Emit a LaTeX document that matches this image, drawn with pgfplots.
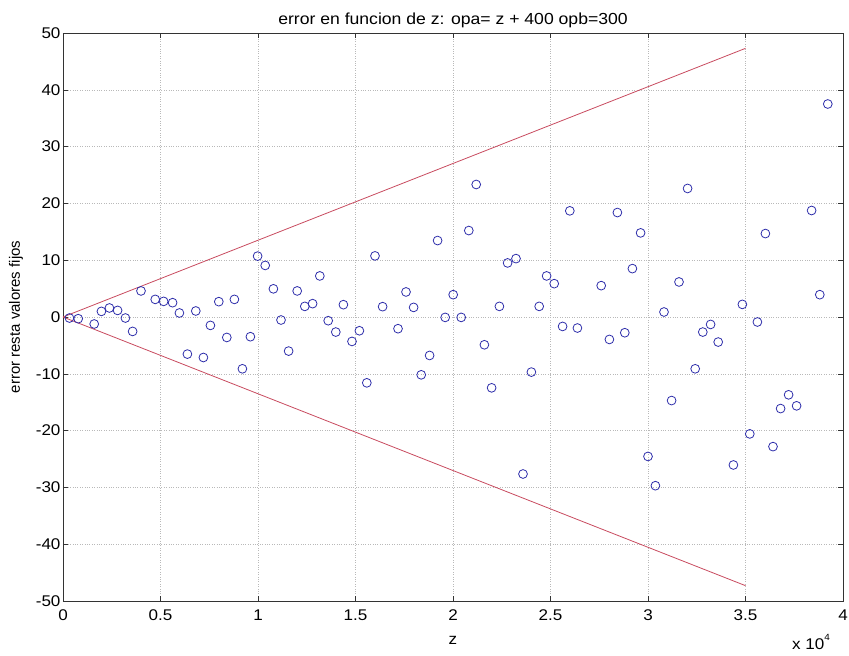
\documentclass[border=0pt]{standalone}
\usepackage{pgfplots}
\pgfplotsset{compat=1.18}
\usepackage{fontspec}
\setmainfont{Liberation Sans}
\newfontfamily\hfont[FakeStretch=1.1]{Liberation Sans}
\definecolor{mkblue}{RGB}{45,45,170}
\definecolor{lnred}{RGB}{200,75,95}
\begin{document}
\begin{tikzpicture}
\path[use as bounding box] (-63pt,-55pt) rectangle (786pt,601pt);
\begin{axis}[
  at={(0pt,0pt)}, anchor=south west,
  scale only axis, width=780pt, height=568pt,
  xmin=0, xmax=4, ymin=-50, ymax=50,
  xtick={0,0.5,...,4}, ytick={-50,-40,...,50},
  xticklabels={0,0.5,1,1.5,2,2.5,3,3.5,4},
  tick align=inside, major tick length=5pt,
  xtick pos=both, ytick pos=both,
  grid=major,
  major grid style={dotted, gray!55, line width=0.6pt},
  axis line style={black!80, line width=0.7pt},
  tick style={black!80, line width=0.6pt},
  /pgf/number format/assume math mode=true,
  ticklabel style={font=\hfont\fontsize{15.5}{17}\selectfont},
  xticklabel style={yshift=-5pt},
  yticklabel style={xshift=1pt},
  title={error en funcion de z: opa= z + 400 opb=300},
  title style={font=\hfont\fontsize{16}{18}\selectfont, yshift=-4pt},
  xlabel={z}, ylabel={error resta valores fijos},
  xlabel style={font=\hfont\fontsize{15.5}{17}\selectfont, yshift=-9pt},
  ylabel style={font=\fontsize{15}{17}\selectfont, yshift=6pt},
]
\addplot[lnred, line width=0.8pt] coordinates {(0,0) (3.5,47.3)};
\addplot[lnred, line width=0.8pt] coordinates {(0,0) (3.5,-47.3)};
\addplot[only marks, mark=o, mark size=4.4pt, mkblue, mark options={line width=0.8pt}] coordinates {
(0.033,-0.18) (0.078,-0.30) (0.160,-1.23) (0.197,0.99) (0.238,1.59) (0.280,1.16)
(0.320,-0.18) (0.357,-2.54) (0.400,4.59) (0.473,3.10) (0.516,2.75) (0.562,2.52)
(0.597,0.71) (0.638,-6.53) (0.681,1.06) (0.720,-7.13) (0.756,-1.48) (0.799,2.70)
(0.840,-3.60) (0.879,3.10) (0.920,-9.12) (0.961,-3.47) (0.998,10.72) (1.037,9.08)
(1.079,4.96) (1.118,-0.53) (1.157,-6.00) (1.201,4.59) (1.240,1.87) (1.280,2.35)
(1.317,7.23) (1.360,-0.65) (1.399,-2.65) (1.438,2.17) (1.482,-4.30) (1.520,-2.42)
(1.558,-11.59) (1.600,10.76) (1.639,1.82) (1.718,-2.06) (1.759,4.41) (1.798,1.69)
(1.837,-10.18) (1.880,-6.77) (1.921,13.46) (1.960,-0.07) (2.001,3.93) (2.042,-0.07)
(2.081,15.22) (2.119,23.33) (2.161,-4.89) (2.198,-12.47) (2.238,1.87) (2.280,9.52)
(2.323,10.28) (2.359,-27.64) (2.402,-9.70) (2.442,1.87) (2.480,7.23) (2.519,5.87)
(2.562,-1.66) (2.599,18.69) (2.638,-1.94) (2.760,5.52) (2.802,-3.95) (2.843,18.39)
(2.881,-2.77) (2.920,8.52) (2.962,14.81) (3.000,-24.55) (3.038,-29.70) (3.082,0.88)
(3.121,-14.71) (3.159,6.17) (3.203,22.63) (3.242,-9.12) (3.281,-2.65) (3.321,-1.31)
(3.360,-4.41) (3.438,-26.05) (3.484,2.22) (3.522,-20.58) (3.561,-0.88) (3.602,14.69)
(3.641,-22.82) (3.680,-16.12) (3.721,-13.70) (3.762,-15.64) (3.839,18.75) (3.881,3.93)
(3.922,37.50)
};
\end{axis}
\node[font=\hfont\fontsize{15.5}{17}\selectfont] at (748pt,-41pt) {x 10\raisebox{0.55em}{\fontsize{9}{10}\selectfont 4}};
\end{tikzpicture}
\end{document}
